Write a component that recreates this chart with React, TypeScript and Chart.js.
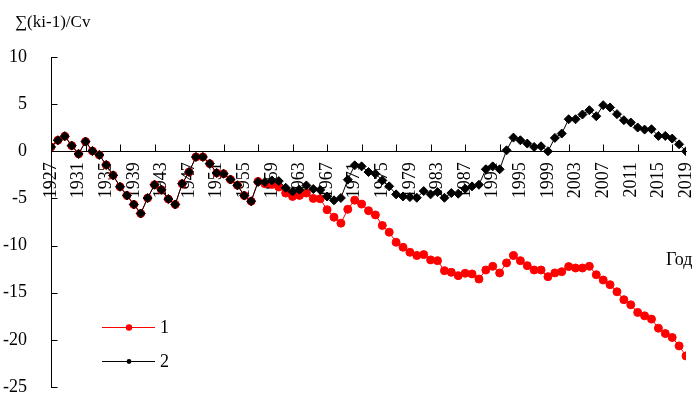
import React, { useEffect, useRef } from "react";
import { Chart, registerables } from "chart.js";

Chart.register(...registerables);

const years: number[] = [
  1927, 1928, 1929, 1930, 1931, 1932, 1933, 1934, 1935, 1936,
  1937, 1938, 1939, 1940, 1941, 1942, 1943, 1944, 1945, 1946,
  1947, 1948, 1949, 1950, 1951, 1952, 1953, 1954, 1955, 1956,
  1957, 1958, 1959, 1960, 1961, 1962, 1963, 1964, 1965, 1966,
  1967, 1968, 1969, 1970, 1971, 1972, 1973, 1974, 1975, 1976,
  1977, 1978, 1979, 1980, 1981, 1982, 1983, 1984, 1985, 1986,
  1987, 1988, 1989, 1990, 1991, 1992, 1993, 1994, 1995, 1996,
  1997, 1998, 1999, 2000, 2001, 2002, 2003, 2004, 2005, 2006,
  2007, 2008, 2009, 2010, 2011, 2012, 2013, 2014, 2015, 2016,
  2017, 2018, 2019,
];

// Series "1" (red)
const series1: number[] = [
  0.46, 1.17, 1.6, 0.6, -0.28, 1.03, 0.03, -0.39, -1.45, -2.55,
  -3.76, -4.68, -5.64, -6.6, -4.96, -3.55, -4.08, -5.07, -5.64, -3.44,
  -2.2, -0.6, -0.6, -1.31, -2.3, -2.38, -3.0, -3.6, -4.7, -5.3,
  -3.2, -3.44, -3.51, -3.79, -4.43, -4.79, -4.68, -4.43, -5.0, -5.04,
  -6.2, -6.99, -7.62, -6.15, -5.18, -5.6, -6.3, -6.75, -7.87, -8.58,
  -9.65, -10.18, -10.71, -11.06, -10.96, -11.52, -11.6, -12.66, -12.84, -13.19,
  -12.94, -13.01, -13.55, -12.59, -12.2, -12.9, -11.84, -11.06, -11.6, -12.13,
  -12.59, -12.59, -13.3, -12.9, -12.77, -12.23, -12.38, -12.38, -12.2, -13.09,
  -13.65, -14.15, -14.9, -15.74, -16.28, -17.09, -17.45, -17.8, -18.76, -19.33,
  -19.75, -20.64, -21.7,
];

// Series "2" (black)
const series2: number[] = [
  0.46, 1.17, 1.6, 0.6, -0.28, 1.03, 0.03, -0.39, -1.45, -2.55,
  -3.76, -4.68, -5.64, -6.6, -4.96, -3.55, -4.08, -5.07, -5.64, -3.44,
  -2.2, -0.6, -0.6, -1.31, -2.3, -2.38, -3.0, -3.6, -4.7, -5.3,
  -3.26, -3.26, -3.09, -3.16, -3.87, -4.26, -4.08, -3.62, -4.0, -4.1,
  -4.8, -5.2, -4.95, -3.01, -1.49, -1.6, -2.2, -2.38, -3.09, -3.72,
  -4.57, -4.79, -4.86, -4.93, -4.22, -4.57, -4.33, -4.93, -4.43, -4.5,
  -3.97, -3.72, -3.55, -1.91, -1.6, -1.91, 0.1, 1.45, 1.17, 0.82,
  0.46, 0.53, 0.0, 1.42, 1.88, 3.4, 3.4, 3.9, 4.36, 3.72,
  4.89, 4.65, 3.94, 3.3, 3.05, 2.52, 2.3, 2.34, 1.63, 1.63,
  1.35, 0.74, 0.0,
];

const labelYears: number[] = years.filter((_, i) => i % 4 === 0);
const tickMarkYears: number[] = years.filter((_, i) => i % 5 === 0);
const yTicks: number[] = [10, 5, 0, -5, -10, -15, -20, -25];

const legendLabels: string[] = ["1", "2"];
const yTitle = "∑(ki-1)/Cv";
const xTitle = "Год";

const FONT = '"Liberation Serif", "Times New Roman", serif';

const decorPlugin = {
  id: "decor",
  afterDraw(chart: any) {
    const ctx = chart.ctx as CanvasRenderingContext2D;
    const xs = chart.scales.x;
    const ys = chart.scales.y;
    const y0 = Math.round(ys.getPixelForValue(0)) + 0.5;
    const left = Math.round(chart.chartArea.left) + 0.5;
    ctx.save();
    ctx.strokeStyle = "#000";
    ctx.lineWidth = 1;
    // x tick marks, pointing up from the axis
    for (const yr of tickMarkYears) {
      const px = Math.round(xs.getPixelForValue(yr)) + 0.5;
      ctx.beginPath();
      ctx.moveTo(px, y0);
      ctx.lineTo(px, y0 - 7);
      ctx.stroke();
    }
    // y tick marks, pointing into the plot
    for (const v of yTicks) {
      const py = Math.round(ys.getPixelForValue(v)) + 0.5;
      ctx.beginPath();
      ctx.moveTo(left, py);
      ctx.lineTo(left + 6, py);
      ctx.stroke();
    }
    // titles
    ctx.fillStyle = "#000";
    ctx.textBaseline = "middle";
    ctx.textAlign = "left";
    ctx.font = `17px ${FONT}`;
    ctx.fillText(yTitle, 15, 23);
    ctx.font = `18px ${FONT}`;
    ctx.fillText(xTitle, 666, 260);
    // legend
    const ds = chart.data.datasets;
    const rows = [327, 361];
    rows.forEach((ry, i) => {
      const d = ds[i];
      ctx.strokeStyle = d.borderColor;
      ctx.lineWidth = 1;
      ctx.beginPath();
      ctx.moveTo(102, ry + 0.5);
      ctx.lineTo(155, ry + 0.5);
      ctx.stroke();
      ctx.fillStyle = d.borderColor;
      ctx.beginPath();
      ctx.arc(129, ry + 0.5, i === 0 ? 3.2 : 2.4, 0, Math.PI * 2);
      ctx.fill();
      ctx.fillStyle = "#000";
      ctx.font = `18px ${FONT}`;
      ctx.fillText(legendLabels[i], 160, ry + 1);
    });
    ctx.restore();
  },
};

export default function App() {
  const ref = useRef<HTMLCanvasElement | null>(null);
  useEffect(() => {
    if (!ref.current) return;
    const chart = new Chart(ref.current, {
      type: "line",
      data: {
        datasets: [
          {
            label: legendLabels[0],
            data: years.map((x, i) => ({ x, y: series1[i] })),
            borderColor: "#ff0000",
            backgroundColor: "#ff0000",
            borderWidth: 1,
            pointStyle: "circle",
            pointRadius: 4,
            pointBorderWidth: 1,
            pointBorderColor: "#ff0000",
            pointBackgroundColor: "#ff0000",
            tension: 0,
            order: 2,
          },
          {
            label: legendLabels[1],
            data: years.map((x, i) => ({ x, y: series2[i] })),
            borderColor: "#000000",
            backgroundColor: "#000000",
            borderWidth: 1,
            pointStyle: "rectRot",
            pointRadius: 4.5,
            pointBorderWidth: 1,
            pointBorderColor: "#000000",
            pointBackgroundColor: "#000000",
            tension: 0,
            order: 1,
          },
        ],
      },
      options: {
        animation: false,
        responsive: true,
        maintainAspectRatio: false,
        layout: { padding: { left: 0, top: 57, right: 11, bottom: 7 } },
        plugins: {
          legend: { display: false },
          tooltip: { enabled: false },
          title: { display: false },
        },
        scales: {
          x: {
            type: "linear",
            min: years[0],
            max: years[years.length - 1],
            position: { y: 0 } as any,
            grid: { display: false },
            border: { display: true, color: "#000", width: 1 },
            afterBuildTicks: (scale: any) => {
              scale.ticks = labelYears.map((v) => ({ value: v }));
            },
            afterFit: (scale: any) => {
              scale.paddingLeft = 0;
              scale.paddingRight = 0;
            },
            ticks: {
              autoSkip: false,
              maxRotation: 90,
              minRotation: 90,
              padding: 3,
              color: "#000",
              font: { family: FONT, size: 18 },
              callback: (v: any) => String(v),
            },
          },
          y: {
            type: "linear",
            min: -25,
            max: 10,
            position: "left",
            grid: { display: false },
            border: { display: true, color: "#000", width: 1 },
            afterBuildTicks: (scale: any) => {
              scale.ticks = yTicks.map((v) => ({ value: v }));
            },
            afterFit: (scale: any) => {
              scale.width = 51;
              scale.paddingTop = 0;
              scale.paddingBottom = 0;
            },
            ticks: {
              padding: 16,
              color: "#000",
              font: { family: FONT, size: 18 },
              callback: (v: any) => String(v),
            },
          },
        },
      },
      plugins: [decorPlugin],
    } as any);
    return () => chart.destroy();
  }, []);
  return (
    <div style={{ position: "fixed", left: 0, top: 0, width: 697, height: 394, background: "#fff" }}>
      <canvas ref={ref} />
    </div>
  );
}
